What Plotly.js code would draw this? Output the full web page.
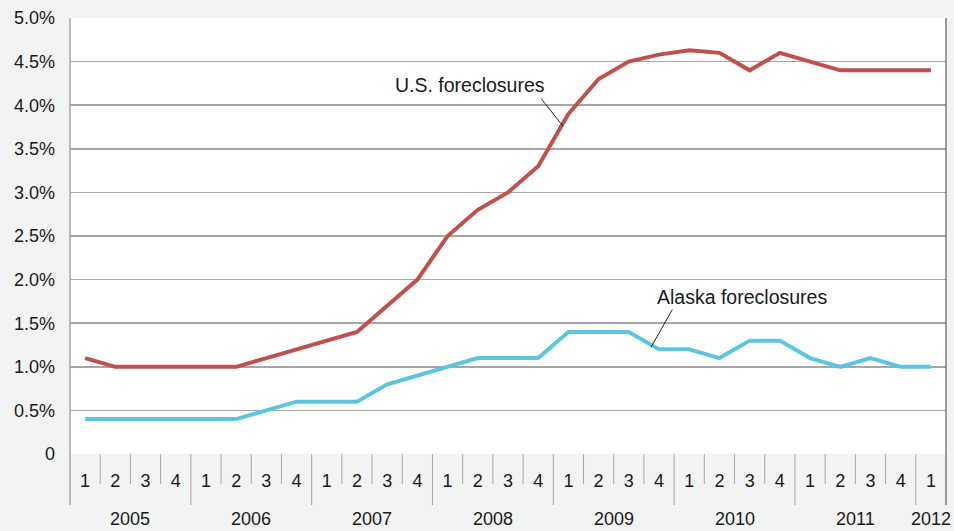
<!DOCTYPE html>
<html><head><meta charset="utf-8">
<script src="https://cdn.plot.ly/plotly-3.0.1.min.js"></script>
<style>html,body{margin:0;padding:0;background:#f2f3f3;}#chart{width:954px;height:531px;}</style>
</head><body><div id="chart"></div>
<script>
const years = ['2005','2006','2007','2008','2009','2010','2011','2012'];
const quarters = ['1','2','3','4','1','2','3','4','1','2','3','4','1','2','3','4','1','2','3','4','1','2','3','4','1','2','3','4','1'];
const yearOfPoint = ['2005','2005','2005','2005','2006','2006','2006','2006','2007','2007','2007','2007','2008','2008','2008','2008','2009','2009','2009','2009','2010','2010','2010','2010','2011','2011','2011','2011','2012'];
const usForeclosures = [1.1,1.0,1.0,1.0,1.0,1.0,1.1,1.2,1.3,1.4,1.7,2.0,2.5,2.8,3.0,3.3,3.9,4.3,4.5,4.58,4.63,4.6,4.4,4.6,4.5,4.4,4.4,4.4,4.4];
const akForeclosures = [0.4,0.4,0.4,0.4,0.4,0.4,0.5,0.6,0.6,0.6,0.8,0.9,1.0,1.1,1.1,1.1,1.4,1.4,1.4,1.2,1.2,1.1,1.3,1.3,1.1,1.0,1.1,1.0,1.0];
const yTickVals = [0,0.5,1,1.5,2,2.5,3,3.5,4,4.5,5];
const yTickText = ['0','0.5%','1.0%','1.5%','2.0%','2.5%','3.0%','3.5%','4.0%','4.5%','5.0%'];

const idx = quarters.map((q,i)=>i);
const font = {family:'Liberation Sans, Arial, sans-serif', size:18, color:'#1a1a1a'};
const annFont = {family:'Liberation Sans, Arial, sans-serif', size:19.5, color:'#1a1a1a'};

const traces = [
  {x: idx, y: usForeclosures, type:'scatter', mode:'lines', line:{color:'#c0504d', width:4}, hoverinfo:'skip'},
  {x: idx, y: akForeclosures, type:'scatter', mode:'lines', line:{color:'#5bc6de', width:4}, hoverinfo:'skip'}
];

const shapes = [];
const n = quarters.length;
for (let i = 1; i < n; i++) {
  const isYearEdge = yearOfPoint[i] !== yearOfPoint[i-1];
  shapes.push({type:'line', xref:'x', yref:'paper', x0:i-0.5, x1:i-0.5, y0:0, y1: isYearEdge ? -0.117 : -0.069,
    line:{color:'#a6a6a6', width:1}});
}
shapes.push({type:'line', xref:'paper', yref:'paper', x0:1, x1:1, y0:-0.117, y1:1, line:{color:'#404040', width:1}});
shapes.push({type:'line', xref:'paper', yref:'paper', x0:0, x1:0, y0:-0.117, y1:1, line:{color:'#a6a6a6', width:1.5}});

const annotations = [];
years.forEach(yr => {
  const pts = idx.filter(i => yearOfPoint[i] === yr);
  const c = (pts[0] + pts[pts.length-1]) / 2;
  annotations.push({x:c, y:-0.149, xref:'x', yref:'paper', text:yr, showarrow:false, font:font, yanchor:'middle'});
});
annotations.push({x:12.75, y:4.23, xref:'x', yref:'y', text:'U.S. foreclosures', showarrow:false, font:annFont});
annotations.push({x:15.82, y:3.76, xref:'x', yref:'y', text:'', showarrow:true, arrowhead:0, arrowwidth:1, arrowcolor:'#222', ax:-23, ay:-29, standoff:0});
annotations.push({x:21.75, y:1.80, xref:'x', yref:'y', text:'Alaska foreclosures', showarrow:false, font:annFont});
annotations.push({x:18.74, y:1.227, xref:'x', yref:'y', text:'', showarrow:true, arrowhead:0, arrowwidth:1, arrowcolor:'#222', ax:22, ay:-39, standoff:0});

const layout = {
  width:954, height:531,
  margin:{l:70, r:8, t:18, b:77},
  paper_bgcolor:'#f2f3f3', plot_bgcolor:'#ffffff',
  showlegend:false,
  font:font,
  xaxis:{range:[-0.5, n-0.5], tickvals:idx, ticktext:quarters, ticks:'', showgrid:false, zeroline:false,
    showline:false, tickfont:font, ticklabelstandoff:14, fixedrange:true},
  yaxis:{range:[0,5], tickvals:yTickVals, ticktext:yTickText, ticks:'', showgrid:true, gridcolor:'#a6a6a6', gridwidth:1.5,
    zeroline:false, showline:false, tickfont:font, ticklabelstandoff:14, fixedrange:true},
  shapes:shapes,
  annotations:annotations
};
Plotly.newPlot('chart', traces, layout, {staticPlot:true});
</script></body></html>
